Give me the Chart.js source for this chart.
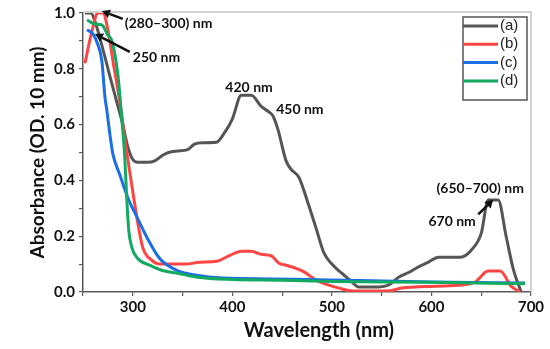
<!DOCTYPE html>
<html>
<head>
<meta charset="utf-8">
<script src="https://cdn.jsdelivr.net/npm/chart.js@4.4.1/dist/chart.umd.min.js"></script>
<style>
  html, body { margin: 0; padding: 0; background: #fff; }
  #wrap { width: 550px; height: 349px; }
</style>
</head>
<body>
<div id="wrap"><canvas id="uvChart"></canvas></div>
<script>
// series (a) .. (d): wavelength (nm) and absorbance
const waveA = [252, 258, 262, 270, 278, 284, 290, 295, 300, 305, 315, 322, 330, 336, 345, 355, 362, 370, 384, 392, 400, 409, 419, 429, 437, 441, 446, 454, 459, 467, 475, 484, 492, 500, 509, 519, 527, 547, 557, 567, 577, 587, 597, 607, 629, 640, 650, 657, 667, 675, 682, 690];
const absA  = [1.0, 1.0, 0.97, 0.87, 0.76, 0.68, 0.6, 0.52, 0.475, 0.465, 0.465, 0.47, 0.49, 0.5, 0.505, 0.51, 0.53, 0.535, 0.537, 0.57, 0.62, 0.705, 0.705, 0.665, 0.645, 0.63, 0.58, 0.47, 0.44, 0.41, 0.33, 0.23, 0.14, 0.1, 0.07, 0.04, 0.018, 0.018, 0.025, 0.053, 0.07, 0.09, 0.107, 0.125, 0.125, 0.15, 0.21, 0.33, 0.33, 0.2, 0.085, 0.0];

const waveB = [252, 258, 265, 270, 275, 280, 287, 294, 300, 304, 310, 319, 327, 354, 367, 384, 397, 409, 419, 429, 439, 447, 454, 464, 472, 484, 494, 507, 520, 557, 570, 604, 630, 644, 657, 669, 680, 689];
const absB  = [0.82, 0.92, 1.0, 1.0, 0.94, 0.83, 0.68, 0.5, 0.36, 0.27, 0.16, 0.114, 0.1, 0.1, 0.107, 0.11, 0.13, 0.146, 0.146, 0.135, 0.13, 0.103, 0.096, 0.085, 0.072, 0.043, 0.028, 0.014, 0.004, 0.004, 0.014, 0.021, 0.025, 0.036, 0.075, 0.075, 0.021, 0.0];

const waveC = [254, 260, 265, 269, 272, 274, 277, 280, 287, 295, 304, 315, 327, 344, 364, 390, 440, 497, 600, 694];
const absC  = [0.94, 0.925, 0.886, 0.826, 0.7, 0.65, 0.566, 0.495, 0.42, 0.338, 0.27, 0.19, 0.12, 0.078, 0.06, 0.05, 0.047, 0.043, 0.036, 0.032];

const waveD = [254, 262, 269, 275, 279, 285, 289, 292, 294, 296, 299, 305, 317, 329, 344, 365, 400, 450, 500, 600, 694];
const absD  = [0.975, 0.96, 0.957, 0.92, 0.9, 0.78, 0.62, 0.48, 0.33, 0.22, 0.16, 0.12, 0.096, 0.078, 0.068, 0.053, 0.045, 0.042, 0.038, 0.035, 0.03];

const seriesLabels = ['(a)', '(b)', '(c)', '(d)'];
const seriesColors = ['#555555', '#ff4444', '#1a6fe6', '#11aa60'];

// peak notes: text, anchor (nm, absorbance) of the text's left/middle
const noteText = ['(280\u2013300) nm', '250 nm', '420 nm', '450 nm', '(650\u2013700) nm', '670 nm'];
const noteX    = [292, 300, 393, 444, 605, 597];
const noteY    = [0.961, 0.84, 0.733, 0.655, 0.37, 0.253];
// arrows: from (nm, abs) to tip (nm, abs)
const arrowFrom = [[290, 0.979], [297, 0.861], [647, 0.278]];
const arrowTo   = [[269, 1.007], [262, 0.925], [662, 0.331]];

const xTitle = 'Wavelength (nm)';

const toPts = (xs, ys) => xs.map((x, i) => ({ x: x, y: ys[i] }));

const AXIS = '#595959';
const BOLD = 'Lato';

const framePlugin = {
    id: 'frame',
    beforeDatasetsDraw(chart) {
        const { ctx, chartArea: a } = chart;
        ctx.save();
        ctx.strokeStyle = '#c4c4c4';
        ctx.lineWidth = 1.5;
        ctx.beginPath();
        ctx.moveTo(a.left, a.top - 1);
        ctx.lineTo(a.right, a.top - 1);
        ctx.lineTo(a.right, a.bottom);
        ctx.stroke();
        ctx.restore();
    }
};

const notesPlugin = {
    id: 'notes',
    afterDraw(chart) {
        const { ctx } = chart;
        const xs = chart.scales.x, ys = chart.scales.y;
        ctx.save();
        ctx.fillStyle = '#111';
        ctx.font = 'bold 14px ' + BOLD;
        ctx.textAlign = 'left';
        ctx.textBaseline = 'middle';
        noteText.forEach((t, i) => {
            ctx.fillText(t, xs.getPixelForValue(noteX[i]), ys.getPixelForValue(noteY[i]));
        });
        ctx.strokeStyle = '#111';
        ctx.lineWidth = 2.5;
        arrowFrom.forEach((f, i) => {
            const x1 = xs.getPixelForValue(f[0]), y1 = ys.getPixelForValue(f[1]);
            const x2 = xs.getPixelForValue(arrowTo[i][0]), y2 = ys.getPixelForValue(arrowTo[i][1]);
            const ang = Math.atan2(y2 - y1, x2 - x1);
            const hl = 8, hw = 4.5;
            const bx = x2 - hl * Math.cos(ang), by = y2 - hl * Math.sin(ang);
            ctx.beginPath();
            ctx.moveTo(x1, y1);
            ctx.lineTo(bx, by);
            ctx.stroke();
            ctx.beginPath();
            ctx.moveTo(x2, y2);
            ctx.lineTo(bx + hw * Math.sin(ang), by - hw * Math.cos(ang));
            ctx.lineTo(bx - hw * Math.sin(ang), by + hw * Math.cos(ang));
            ctx.closePath();
            ctx.fill();
        });

        // x title sits a bit right of the plot centre in the original
        ctx.textAlign = 'center';
        ctx.font = 'bold 20px ' + BOLD;
        ctx.fillText(xTitle, xs.getPixelForValue(487), chart.height - 18);

        // legend box, top right inside the plot
        const a = chart.chartArea;
        const bx = a.right - 68, by = a.top + 4, bw = 64, bh = 83;
        ctx.textAlign = 'left';
        ctx.strokeStyle = '#555';
        ctx.lineWidth = 1.5;
        ctx.strokeRect(bx, by, bw, bh);
        ctx.font = '15px "Liberation Sans"';
        chart.data.datasets.forEach((ds, i) => {
            const ry = by + 9 + i * 18.3;
            ctx.strokeStyle = ds.borderColor;
            ctx.lineWidth = 3;
            ctx.beginPath();
            ctx.moveTo(bx, ry);
            ctx.lineTo(bx + 35, ry);
            ctx.stroke();
            ctx.fillStyle = '#222';
            ctx.fillText(ds.label, bx + 37, ry);
        });
        ctx.restore();
    }
};

new Chart(document.getElementById('uvChart'), {
    type: 'line',
    data: {
        datasets: [
            { label: seriesLabels[0], data: toPts(waveA, absA), borderColor: seriesColors[0], order: 4 },
            { label: seriesLabels[1], data: toPts(waveB, absB), borderColor: seriesColors[1], order: 3 },
            { label: seriesLabels[2], data: toPts(waveC, absC), borderColor: seriesColors[2], order: 2 },
            { label: seriesLabels[3], data: toPts(waveD, absD), borderColor: seriesColors[3], order: 1 }
        ]
    },
    options: {
        responsive: true,
        maintainAspectRatio: false,
        animation: false,
        layout: { padding: { top: 11, right: 19, left: 0, bottom: 0 } },
        elements: {
            line: { borderWidth: 3, cubicInterpolationMode: 'monotone', fill: false },
            point: { radius: 0 }
        },
        plugins: { legend: { display: false }, tooltip: { enabled: false } },
        scales: {
            x: {
                type: 'linear',
                min: 250, max: 700,
                afterFit: s => { s.height = 57; },
                border: { color: AXIS, width: 1.5 },
                grid: { drawOnChartArea: false, color: AXIS, tickLength: 4, lineWidth: 1.2 },
                ticks: {
                    stepSize: 50,
                    padding: 2,
                    color: '#111',
                    font: { family: BOLD, weight: 'bold', size: 15 },
                    callback: v => (v % 100 === 0 ? String(v) : '')
                },
                title: { display: false }
            },
            y: {
                min: 0, max: 1.0,
                afterFit: s => { s.width = 83; },
                border: { color: AXIS, width: 1.5 },
                grid: { drawOnChartArea: false, color: AXIS, tickLength: 4, lineWidth: 1.2 },
                ticks: {
                    stepSize: 0.1,
                    padding: 4,
                    color: '#111',
                    font: { family: BOLD, weight: 'bold', size: 15 },
                    callback: v => (Math.round(v * 10) % 2 === 0 ? v.toFixed(1) : '')
                },
                title: {
                    display: true,
                    text: 'Absorbance (OD. 10 mm)',
                    color: '#111',
                    font: { family: BOLD, weight: 'bold', size: 19 },
                    padding: { top: 26, bottom: 0 }
                }
            }
        }
    },
    plugins: [framePlugin, notesPlugin]
});
</script>
</body>
</html>
